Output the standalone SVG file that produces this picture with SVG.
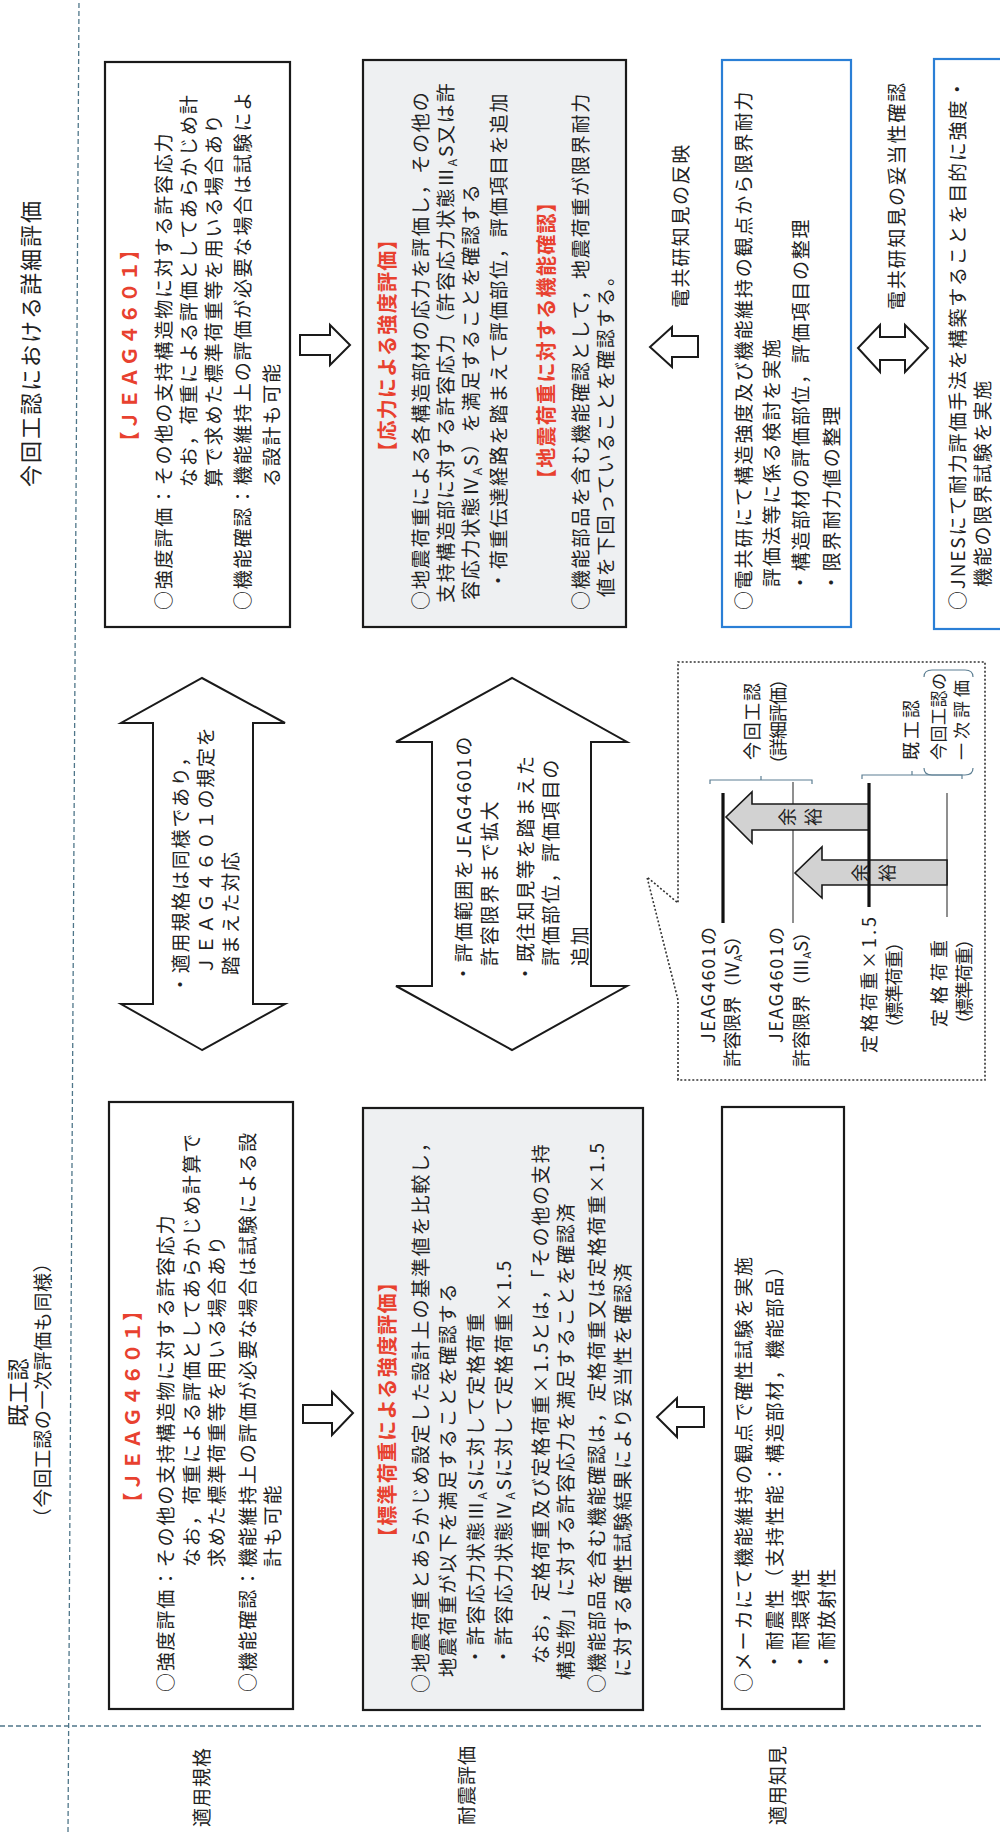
<svg xmlns="http://www.w3.org/2000/svg" width="1000" height="1832" viewBox="0 0 1000 1832">
<defs>
<style>
.t{font-family:"Noto Sans CJK JP","Noto Sans",sans-serif;fill:#222}
.red{fill:#e8412f;font-weight:bold}
.box{fill:#fff;stroke:#1a1a1a;stroke-width:2.2}
.gray{fill:#eef0f2}
.blue{stroke:#2a7fd6}
.dash{fill:none;stroke:#4f7689;stroke-width:1.3;stroke-dasharray:5 3}
.arr{fill:#fff;stroke:#1a1a1a;stroke-width:2;stroke-linejoin:miter}
.garr{fill:#d2d2d2;stroke:#1a1a1a;stroke-width:1.6}
.call{fill:#fff;stroke:#333;stroke-width:1.6;stroke-dasharray:2 2}
.brk{fill:none;stroke:#5d7f93;stroke-width:1.2}
.thick{stroke:#111;stroke-width:3.2}
.thin{stroke:#333;stroke-width:1.1}
</style>
</defs>
<rect width="1000" height="1832" fill="#fff"/>
<g transform="translate(0,1832) rotate(-90)">

<g id="grid">
<line class="dash" x1="0" y1="68" x2="1832" y2="79"/>
<line class="dash" x1="106" y1="0" x2="106" y2="983"/>
</g>

<g id="headers" class="t">
<text x="1489" y="39" font-size="22" letter-spacing="2" text-anchor="middle">今回工認における詳細評価</text>
<text x="440" y="26" font-size="22" letter-spacing="1" text-anchor="middle">既工認</text>
<text x="442" y="50" font-size="19" letter-spacing="0.6" text-anchor="middle">（今回工認の一次評価も同様）</text>
<text x="45" y="209" font-size="19" letter-spacing="1" text-anchor="middle">適用規格</text>
<text x="47" y="474" font-size="19" letter-spacing="1" text-anchor="middle">耐震評価</text>
<text x="47" y="785" font-size="19" letter-spacing="1" text-anchor="middle">適用知見</text>
</g>

<g id="box-jeag-old" class="t" font-size="19" letter-spacing="1.8">
<rect class="box" x="123" y="109" width="607" height="184"/>
<text class="red" x="426" y="140" font-size="20" letter-spacing="1.3" text-anchor="middle">【ＪＥＡＧ４６０１】</text>
<text x="140" y="173">○強度評価：その他の支持構造物に対する許容応力</text>
<text x="265" y="199">なお，荷重による評価としてあらかじめ計算で</text>
<text x="265" y="224">求めた標準荷重等を用いる場合あり</text>
<text x="140" y="255">○機能確認：機能維持上の評価が必要な場合は試験による設</text>
<text x="265" y="280">計も可能</text>
</g>

<g id="box-jeag-new" class="t" font-size="19" letter-spacing="1.8">
<rect class="box" x="1205" y="105" width="565" height="185"/>
<text class="red" x="1487" y="137" font-size="20" letter-spacing="1.3" text-anchor="middle">【ＪＥＡＧ４６０１】</text>
<text x="1222" y="171">○強度評価：その他の支持構造物に対する許容応力</text>
<text x="1345" y="196">なお，荷重による評価としてあらかじめ計</text>
<text x="1345" y="221">算で求めた標準荷重等を用いる場合あり</text>
<text x="1222" y="250">○機能確認：機能維持上の評価が必要な場合は試験によ</text>
<text x="1345" y="279">る設計も可能</text>
</g>

<g id="box-seismic-old" class="t" font-size="19" letter-spacing="1.8">
<rect class="box gray" x="122" y="363" width="602" height="280"/>
<text class="red" x="423" y="395" font-size="20" letter-spacing="1.3" text-anchor="middle">【標準荷重による強度評価】</text>
<text x="139" y="428">○地震荷重とあらかじめ設定した設計上の基準値を比較し，</text>
<text x="155" y="455">地震荷重が以下を満足することを確認する</text>
<text x="166" y="483">・許容応力状態Ⅲ<tspan font-size="12" dy="4">A</tspan><tspan dy="-4">S</tspan>に対して定格荷重</text>
<text x="166" y="511">・許容応力状態Ⅳ<tspan font-size="12" dy="4">A</tspan><tspan dy="-4">S</tspan>に対して定格荷重×1.5</text>
<text x="168" y="548">なお，定格荷重及び定格荷重×1.5とは，「その他の支持</text>
<text x="152" y="573">構造物」に対する許容応力を満足することを確認済</text>
<text x="139" y="604">○機能部品を含む機能確認は，定格荷重又は定格荷重×1.5</text>
<text x="155" y="630">に対する確性試験結果により妥当性を確認済</text>
</g>

<g id="box-seismic-new" class="t" font-size="19" letter-spacing="1.8">
<rect class="box gray" x="1205" y="363" width="567" height="263"/>
<text class="red" x="1487" y="395" font-size="20" letter-spacing="1.3" text-anchor="middle">【応力による強度評価】</text>
<text x="1222" y="428">○地震荷重による各構造部材の応力を評価し，その他の</text>
<text x="1229" y="453">支持構造部に対する許容応力（許容応力状態Ⅲ<tspan font-size="12" dy="4">A</tspan><tspan dy="-4">S</tspan>又は許</text>
<text x="1232" y="478">容応力状態Ⅳ<tspan font-size="12" dy="4">A</tspan><tspan dy="-4">S</tspan>）を満足することを確認する</text>
<text x="1242" y="506">・荷重伝達経路を踏まえて評価部位，評価項目を追加</text>
<text class="red" x="1492" y="554" font-size="20" letter-spacing="1.3" text-anchor="middle">【地震荷重に対する機能確認】</text>
<text x="1222" y="588">○機能部品を含む機能確認として，地震荷重が限界耐力</text>
<text x="1235" y="613">値を下回っていることを確認する。</text>
</g>

<g id="box-knowledge-old" class="t" font-size="19" letter-spacing="1.8">
<rect class="box" x="123" y="722" width="602" height="122"/>
<text x="140" y="751">○メーカにて機能維持の観点で確性試験を実施</text>
<text x="161" y="782">・耐震性（支持性能：構造部材，機能部品）</text>
<text x="161" y="808">・耐環境性</text>
<text x="161" y="834">・耐放射性</text>
</g>

<g id="box-denkyoken" class="t" font-size="19" letter-spacing="1.8">
<rect class="box blue" x="1205" y="722" width="567" height="129"/>
<text x="1222" y="751">○電共研にて構造強度及び機能維持の観点から限界耐力</text>
<text x="1245" y="779">評価法等に係る検討を実施</text>
<text x="1240" y="808">・構造部材の評価部位，評価項目の整理</text>
<text x="1240" y="839">・限界耐力値の整理</text>
</g>

<g id="box-jnes" class="t" font-size="19" letter-spacing="1.8">
<rect class="box blue" x="1203" y="934" width="570" height="120"/>
<text x="1222" y="965">○JNESにて耐力評価手法を構築することを目的に強度・</text>
<text x="1245" y="990">機能の限界試験を実施</text>
</g>

<g id="connectors">
<polygon class="arr" points="782,202 828,121 828,153 1109,153 1109,121 1154,202 1109,285 1109,253 828,253 828,285"/>
<polygon class="arr" points="782,512 846,396 846,432 1090,432 1090,396 1154,512 1090,627 1090,591 846,591 846,627"/>
<polygon class="arr" points="409,303 427,303 427,332 440,332 419,353 397,332 409,332"/>
<polygon class="arr" points="1477,300 1497,300 1497,330 1507,330 1487,350 1467,330 1477,330"/>
<polygon class="arr" points="405,704 425,704 425,677 434,677 415,657 395,677 405,677"/>
<polygon class="arr" points="1475,698 1496,698 1496,672 1505,672 1485,650 1465,672 1475,672"/>
<polygon class="arr" points="1472,880 1472,905 1460,905 1484,928 1507,905 1495,905 1495,880 1507,880 1484,858 1460,880"/>
</g>

<g id="connector-labels" class="t" font-size="19" letter-spacing="1.8">
<text x="838" y="188">・適用規格は同様であり，</text>
<text x="857" y="213">ＪＥＡＧ４６０１の規定を</text>
<text x="857" y="238">踏まえた対応</text>
<text x="849" y="471">・評価範囲をJEAG4601の</text>
<text x="866" y="497">許容限界まで拡大</text>
<text x="849" y="533">・既往知見等を踏まえた</text>
<text x="866" y="558">評価部位，評価項目の</text>
<text x="866" y="587">追加</text>
<text x="1524" y="688" letter-spacing="1.6">電共研知見の反映</text>
<text x="1522" y="904" letter-spacing="1.8">電共研知見の妥当性確認</text>
</g>

<g id="margin-chart" class="t" font-size="18">
<path class="call" d="M752 678 L832 678 L955 647 L929 678 L1170 678 L1170 985 L752 985 Z"/>
<line class="thin" x1="909" y1="793" x2="1050" y2="793"/>
<line class="thin" x1="915" y1="947" x2="1039" y2="947"/>
<polygon class="garr" points="1002,869 1002,752 989,752 1015,726 1040,752 1028,752 1028,869"/>
<polygon class="garr" points="947,947 947,822 934,822 959,795 985,822 972,822 972,947"/>
<line class="thick" x1="909" y1="723" x2="1039" y2="723"/>
<line class="thick" x1="925" y1="869" x2="1049" y2="869"/>
<path class="brk" d="M1048 710 L1052 710 L1052 812 L1048 812 M1052 761 L1056 761"/>
<path class="brk" d="M1053 862 L1057 862 L1057 962 L1053 962 M1057 912 L1061 912"/>
<path class="brk" d="M1064 924 Q1057 924 1057 932 L1057 965 Q1057 973 1064 973 M1155 924 Q1162 924 1162 932 L1162 965 Q1162 973 1155 973"/>
<text x="1015" y="794" text-anchor="middle">余</text>
<text x="1015" y="820" text-anchor="middle">裕</text>
<text x="959" y="867" text-anchor="middle">余</text>
<text x="959" y="894" text-anchor="middle">裕</text>
<text x="1072" y="759" textLength="77">今回工認</text>
<text x="1059" y="785" textLength="103">（詳細評価）</text>
<text x="1072" y="918" textLength="60">既工認</text>
<text x="1072" y="945" font-size="17" textLength="87">今回工認の</text>
<text x="1072" y="968" font-size="17" textLength="80">一次評価</text>
<text x="789" y="715" textLength="116">JEAG4601の</text>
<text x="765" y="739" textLength="140">許容限界（Ⅳ<tspan font-size="11" dy="3">A</tspan><tspan dy="-3">S</tspan>）</text>
<text x="789" y="783" textLength="116">JEAG4601の</text>
<text x="765" y="808" textLength="144">許容限界（Ⅲ<tspan font-size="11" dy="3">A</tspan><tspan dy="-3">S</tspan>）</text>
<text x="779" y="876" textLength="136">定格荷重×1.5</text>
<text x="795" y="901" textLength="104">（標準荷重）</text>
<text x="805" y="946" textLength="87">定格荷重</text>
<text x="799" y="971" textLength="103">（標準荷重）</text>
</g>

</g>
</svg>
